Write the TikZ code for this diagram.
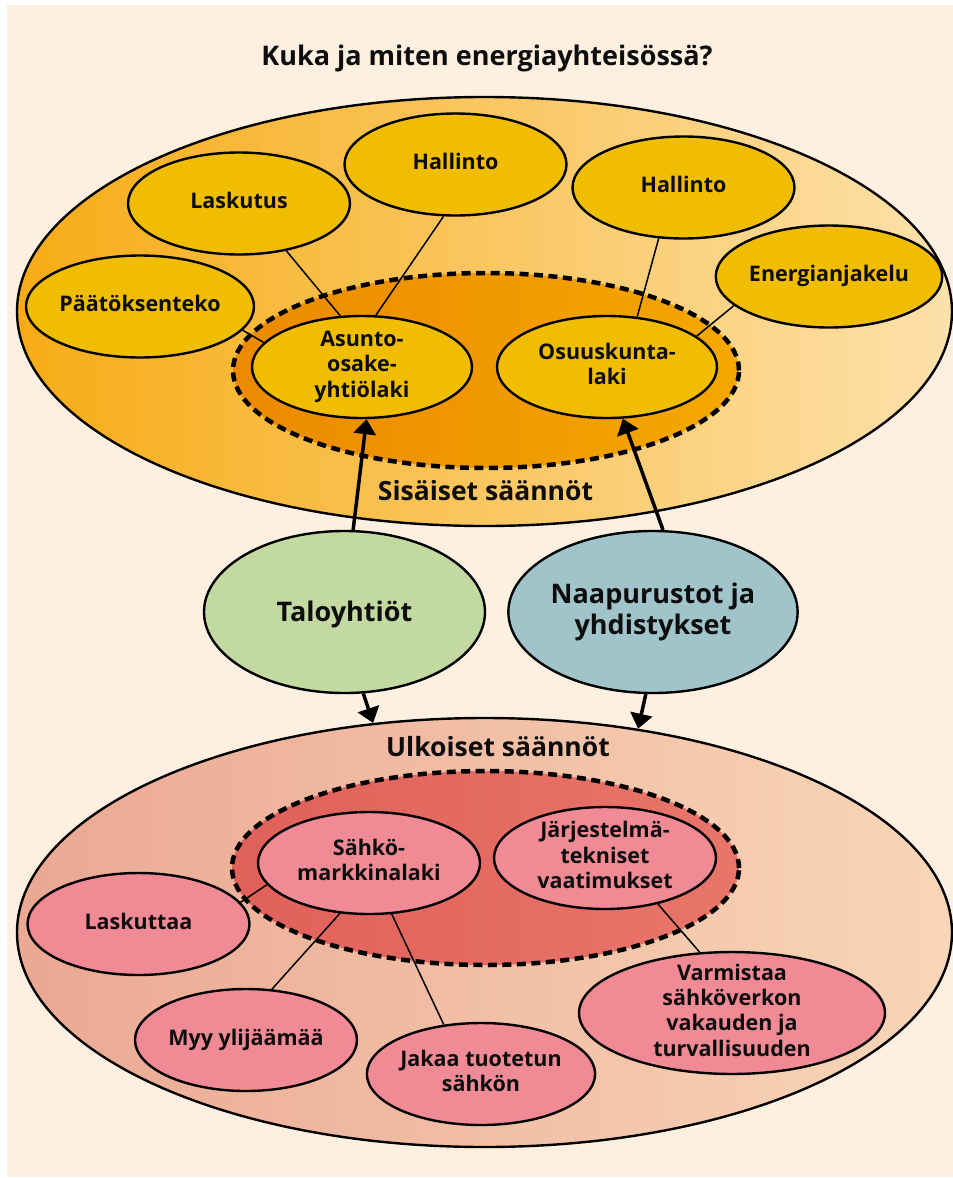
\documentclass[tikz,border=0pt]{standalone}
\usepackage{fontspec}
\setmainfont{Open Sans}
\usetikzlibrary{shapes.geometric,arrows.meta}

\definecolor{cream}{HTML}{FDF0E0}
\definecolor{topL}{HTML}{F7AC16}
\definecolor{topR}{HTML}{FDE1AB}
\definecolor{ringL}{HTML}{EC8900}
\definecolor{ringR}{HTML}{F4A800}
\definecolor{gold}{HTML}{F1BD00}
\definecolor{talogreen}{HTML}{C2DAA1}
\definecolor{naapblue}{HTML}{A1C4CA}
\definecolor{lowL}{HTML}{EBA893}
\definecolor{lowR}{HTML}{F8D6B8}
\definecolor{lowringL}{HTML}{E0605A}
\definecolor{lowringR}{HTML}{E9766A}
\definecolor{rosa}{HTML}{F08A94}

\begin{document}
\begin{tikzpicture}[x=1pt,y=-1pt,
    every node/.style={font=\bfseries\fontsize{21.5}{25.3}\selectfont, align=center, text=black!95},
    bigoval/.style={ellipse, draw, line width=2.4pt, inner sep=0pt, minimum width=935, minimum height=429},
    ring/.style={ellipse, draw, line width=4.5pt, dash pattern=on 9pt off 5.5pt, inner sep=0pt},
    oval/.style={ellipse, draw, line width=2.4pt, inner xsep=0pt, inner ysep=-6pt, text depth=6pt, minimum width=222, minimum height=102},
    bigtext/.style={font=\bfseries\fontsize{26.5}{30}\selectfont},
    link/.style={line width=1.5pt},
    flow/.style={line width=3.5pt, -{Triangle[length=15pt,width=22pt]}}]
  \fill[white] (0,0) rectangle (953,1178);
  \fill[cream] (7,5) rectangle (953,1177);
  \useasboundingbox (0,0) rectangle (953,1178);

  \node[font=\bfseries\fontsize{27}{32}\selectfont] (title) at (487,58) {Kuka ja miten energiayhteisössä?};

  % sisaiset saannot
  \node[bigoval, left color=topL, right color=topR] (sisa) at (484.5,311.5) {};
  \node[ring, left color=ringL, right color=ringR, minimum width=506, minimum height=195] (sisaring) at (486,370.5) {};
  \node[oval, fill=gold] (paatos) at (140,306.5) {Päätöksenteko};
  \node[oval, fill=gold] (laskutus) at (239,203.5) {Laskutus};
  \node[oval, fill=gold] (hallintoA) at (455.5,164.5) {Hallinto};
  \node[oval, fill=gold] (hallintoB) at (683.5,187.5) {Hallinto};
  \node[oval, fill=gold] (jakelu) at (829,276.5) {Energianjakelu};
  \node[oval, fill=gold, minimum width=220] (asunto) at (362,367) {Asunto-\\osake-\\yhtiölaki};
  \node[oval, fill=gold, minimum width=220] (osuus) at (607,367) {Osuuskunta-\\laki};
  \node[bigtext] (sisateksti) at (485.5,491) {Sisäiset säännöt};

  \draw[link] (paatos.347.7) -- (asunto.166);
  \draw[link] (laskutus.315) -- (asunto.113.7);
  \draw[link] (hallintoA.257) -- (asunto.75.7);
  \draw[link] (hallintoB.244) -- (osuus.59.9);
  \draw[link] (jakelu.197.6) -- (osuus.19);

  % toimijat
  \node[oval, fill=talogreen, minimum width=281, minimum height=162, text depth=2pt, font=\bfseries\fontsize{27}{32}\selectfont] (talo) at (344.5,612) {Taloyhtiöt};
  \node[oval, fill=naapblue, minimum width=284, minimum height=162, font=\bfseries\fontsize{27}{31}\selectfont] (naapuri) at (653,612) {Naapurustot ja\\yhdistykset};

  % ulkoiset saannot
  \node[bigoval, left color=lowL, right color=lowR] (ulko) at (484.5,932.5) {};
  \node[bigtext] (ulkoteksti) at (498,747) {Ulkoiset säännöt};
  \node[ring, left color=lowringL, right color=lowringR, minimum width=507, minimum height=194] (ulkoring) at (485.5,868) {};
  \node[oval, fill=rosa] (sahko) at (369,863) {Sähkö-\\markkinalaki};
  \node[oval, fill=rosa] (jarj) at (605,858) {Järjestelmä-\\tekniset\\vaatimukset};
  \node[oval, fill=rosa] (laskuttaa) at (138.5,924) {Laskuttaa};
  \node[oval, fill=rosa] (myy) at (246,1040) {Myy ylijäämää};
  \node[oval, fill=rosa] (jakaa) at (481,1074) {Jakaa tuotetun\\sähkön};
  \node[oval, fill=rosa, minimum width=306, minimum height=120] (varmistaa) at (732,1013) {Varmistaa\\sähköverkon\\vakauden ja\\turvallisuuden};

  \draw[link] (laskuttaa.12.3) -- (sahko.192.8);
  \draw[link] (sahko.240) -- (myy.63.4);
  \draw[link] (sahko.294.3) -- (jakaa.127.8);
  \draw[link] (jarj.319) -- (varmistaa.118.5);

  \draw[flow] (talo.84) -- (asunto.275.6);
  \draw[flow] (naapuri.83) -- (osuus.287.4);
  \draw[flow] (talo.283) -- (ulko.118.9);
  \draw[flow] (naapuri.265.8) -- (ulko.53.1);
\end{tikzpicture}
\end{document}
